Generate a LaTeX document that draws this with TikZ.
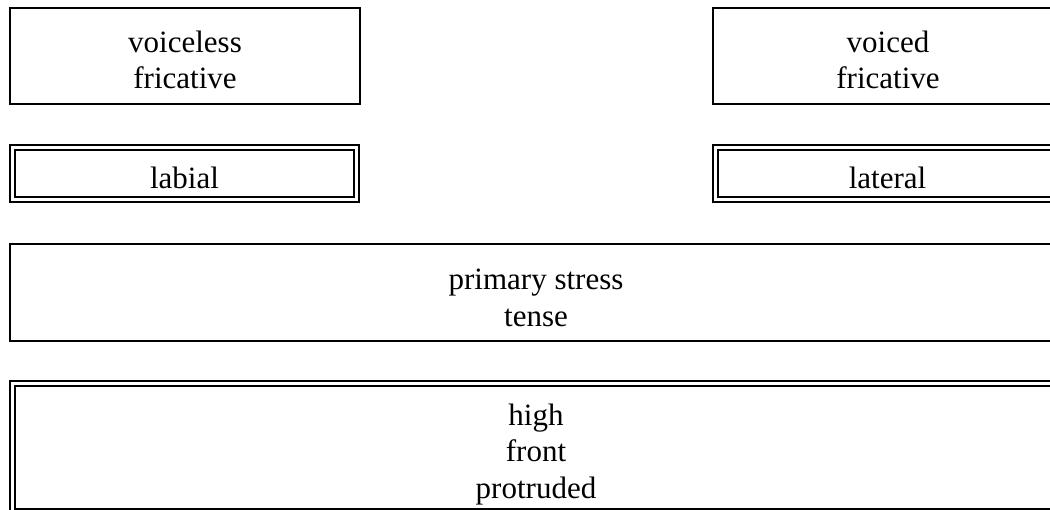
\documentclass[tikz,border=0pt]{standalone}
\usepackage{fontspec}
\setmainfont{Liberation Serif}
\usepackage{tikz}

\begin{document}
\begin{tikzpicture}[x=0.75pt,y=0.75pt,yscale=-1,xscale=1,
	featbox/.style={draw,line width=1.5pt,inner sep=0pt},
	dblbox/.style={featbox,double,double distance=2.25pt},
	feattext/.style={align=center,inner sep=0pt,
		font=\fontsize{23.25}{27.4}\selectfont}]
	%set diagram to 1050 x 510, boxes on the right run past the edge
	\clip (0,0) rectangle (1050,510);
	
	%Shape: Rectangle [voiceless]
	\node [featbox,minimum width=262.5pt,minimum height=72pt,
		label={[feattext,yshift=-2.8pt]center:voiceless\\fricative}] (vless) at (185,56) {};
	%Shape: Rectangle [voiced]
	\node [featbox,minimum width=262.5pt,minimum height=72pt,
		label={[feattext,yshift=-2.8pt]center:voiced\\fricative}] (vced) at (888,56) {};
	
	%Shape: Double Rectangle [labial]
	\node [dblbox,minimum width=258pt,minimum height=39pt,
		label={[feattext,yshift=-3.2pt]center:labial}] (lab) at (184.5,173.5) {};
	%Shape: Double Rectangle [lateral]
	\node [dblbox,minimum width=258pt,minimum height=39pt,
		label={[feattext,yshift=-3.2pt]center:lateral}] (lat) at (887.5,173.5) {};
	
	%Shape: Rectangle [stress]
	\node [featbox,minimum width=789pt,minimum height=72.75pt,
		label={[feattext,yshift=-3.9pt]center:primary stress\\tense}] (stress) at (536,292.5) {};
	
	%Shape: Double Rectangle [vowel]
	\node [dblbox,minimum width=785.25pt,minimum height=95.8pt,
		label={[feattext,yshift=-5.25pt]center:high\\front\\protruded}] (vowel) at (536,447.3) {};
	
\end{tikzpicture}
\end{document}
